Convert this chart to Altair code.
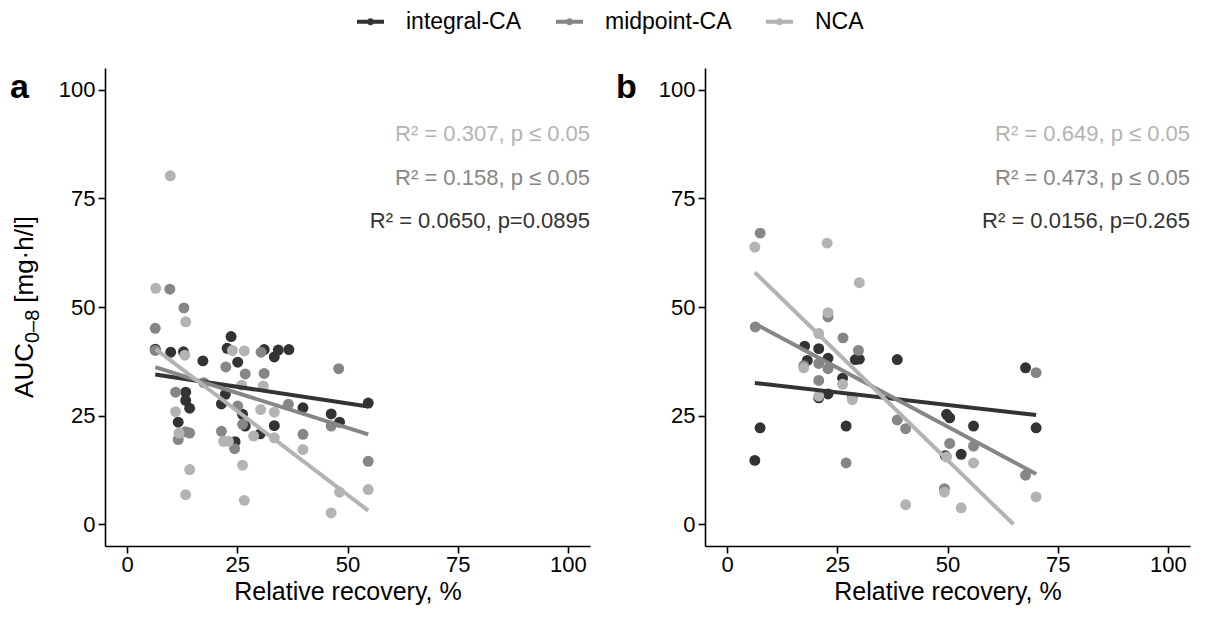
import altair as alt
import numpy as np
import pandas as pd

FONT = "Liberation Sans"

methods = ["integral-CA", "midpoint-CA", "NCA"]
greys = ["#333333", "#868686", "#b3b3b3"]

# ---- panel a: relative recovery (%) vs AUC0-8 (mg*h/l) ----
a_int_x = [6.4, 9.9, 12.8, 17.2, 23.6, 22.7, 25.1, 31.1, 33.4, 34.3, 36.7, 13.3, 13.3,
           14.2, 11.6, 21.4, 22.3, 26.2, 26.8, 30.2, 33.4, 24.5, 39.9, 46.3, 48.2, 54.7]
a_int_y = [40.3, 39.6, 39.7, 37.6, 43.2, 40.5, 37.3, 40.2, 38.5, 40.1, 40.2, 30.4, 28.5,
           26.7, 23.5, 27.7, 29.9, 25.3, 22.6, 20.8, 22.7, 19.0, 26.8, 25.4, 23.5, 27.9]

a_mid_x = [9.7, 12.9, 6.4, 22.4, 30.4, 26.8, 31.1, 48.0, 11.0, 13.3, 14.2, 11.6, 25.1,
           26.2, 21.4, 24.4, 39.9, 46.3, 54.7, 6.4, 17.4, 36.6]
a_mid_y = [54.1, 49.8, 45.1, 36.2, 39.6, 34.6, 34.7, 35.8, 30.4, 21.3, 21.0, 19.5, 27.2,
           23.0, 21.4, 17.4, 20.7, 22.6, 14.5, 40.0, 32.6, 27.6]

a_nca_x = [6.5, 13.3, 13.1, 23.9, 26.6, 26.0, 30.9, 11.0, 11.8, 28.7, 30.3, 33.4, 33.4,
           21.9, 23.0, 26.2, 14.2, 13.3, 26.6, 39.9, 54.7, 48.2, 46.3, 9.8]
a_nca_y = [54.3, 46.6, 38.9, 40.0, 39.9, 32.0, 31.8, 25.9, 21.0, 20.3, 26.4, 25.8, 19.9,
           19.1, 19.1, 13.6, 12.6, 6.8, 5.5, 17.2, 8.0, 7.4, 2.6, 80.2]

# ---- panel b ----
b_int_x = [17.6, 20.8, 22.9, 18.2, 29.1, 30.0, 38.6, 26.2, 22.9, 20.8, 49.8, 50.5, 55.9,
           7.5, 27.0, 6.3, 53.1, 49.5, 67.7, 70.1]
b_int_y = [41.0, 40.4, 38.2, 37.7, 37.9, 38.0, 37.9, 33.6, 30.0, 29.1, 25.3, 24.5, 22.6,
           22.2, 22.6, 14.7, 16.1, 15.8, 36.0, 22.2]

b_mid_x = [7.5, 6.4, 22.9, 26.3, 29.8, 20.8, 22.9, 20.8, 17.4, 38.6, 40.5, 27.0, 50.5,
           55.9, 70.1, 67.7, 49.3, 28.4]
b_mid_y = [67.0, 45.4, 47.7, 42.9, 40.0, 37.0, 35.8, 33.1, 36.5, 24.0, 22.0, 14.1, 18.6,
           18.0, 34.9, 11.3, 8.2, 29.2]

b_nca_x = [30.0, 22.9, 20.8, 17.4, 26.2, 20.8, 28.4, 55.9, 49.8, 49.3, 40.5, 53.1, 6.3,
           22.7, 70.1]
b_nca_y = [55.6, 48.7, 43.9, 36.0, 32.2, 29.5, 28.7, 14.1, 15.5, 7.4, 4.5, 3.8, 63.8,
           64.7, 6.3]

# fit statistics printed in each panel (NCA, midpoint-CA, integral-CA from top)
a_notes = ["R² = 0.307, p ≤ 0.05", "R² = 0.158, p ≤ 0.05", "R² = 0.0650, p=0.0895"]
b_notes = ["R² = 0.649, p ≤ 0.05", "R² = 0.473, p ≤ 0.05", "R² = 0.0156, p=0.265"]

# y-axis title pieces: (text, is_subscript)
y_title_parts = [("AUC", False), ("0–8", True), ("[mg·h/l]", False)]
X_TITLE = "Relative recovery, %"

# Arial / Liberation Sans advance widths (1/1000 em) used to lay out the title pieces
ADV = {"A": 667, "U": 722, "C": 722, "0": 556, "8": 556, "–": 556, " ": 278, "[": 278,
       "]": 278, "m": 833, "g": 556, "·": 333, "h": 556, "/": 278, "l": 222}


def text_width(s, size):
    return sum(ADV.get(ch, 556) for ch in s) * size / 1000.0


def points_frame(series):
    rows = []
    for m, (xs, ys) in zip(methods, series):
        rows += [{"method": m, "x": x, "y": y} for x, y in zip(xs, ys)]
    return pd.DataFrame(rows)


def fit_frame(series):
    """Least-squares line per method over the observed x range, kept inside y >= 0."""
    rows = []
    for m, (xs, ys) in zip(methods, series):
        slope, intercept = np.polyfit(xs, ys, 1)
        x0, x1 = min(xs), max(xs)
        if slope < 0 and intercept + slope * x1 < 0:
            x1 = -intercept / slope
        for x in (x0, x1):
            rows.append({"method": m, "x": x, "y": intercept + slope * x})
    return pd.DataFrame(rows)


PW, PH = 485, 478
TITLE_SIZE = 25
Y_TITLE_SIZE = 26
SUB_SIZE = 20
WORD_GAP = 7

legend = alt.Legend(
    title=None,
    orient="none",
    direction="horizontal",
    legendX=250,
    legendY=-62,
    labelFont=FONT,
    labelFontSize=23,
    labelColor="black",
    labelOffset=20,
    columnPadding=26,
    symbolType="M-1,0H1M-0.12,0A0.12,0.12,0,1,1,0.12,0A0.12,0.12,0,1,1,-0.12,0Z",
    symbolSize=729,
    symbolStrokeWidth=4,
    symbolOpacity=1,
)

color = alt.Color("method:N", scale=alt.Scale(domain=methods, range=greys), legend=legend)


def y_title_layers():
    """Rotated y title drawn piece by piece so the subscript can be smaller and lowered."""
    widths = [text_width(t, SUB_SIZE if sub else Y_TITLE_SIZE) for t, sub in y_title_parts]
    total = sum(widths) + WORD_GAP
    pos = PH / 2 + total / 2
    out = []
    for (t, sub), w in zip(y_title_parts, widths):
        size = SUB_SIZE if sub else Y_TITLE_SIZE
        out.append(
            alt.Chart(pd.DataFrame({"piece": [t]})).mark_text(
                angle=270, align="left", baseline="alphabetic", font=FONT,
                fontSize=size, color="black"
            ).encode(x=alt.value(-72 + (6 if sub else 0)), y=alt.value(pos), text="piece:N")
        )
        pos -= w + (WORD_GAP if sub else 0)
    return out


def panel(tag, series, notes, with_y_title, tag_dx):
    pts = points_frame(series)
    pts["rank"] = pts["method"].map({m: i for i, m in enumerate(methods)})
    fits = fit_frame(series)

    x_enc = alt.X("x:Q", scale=alt.Scale(domain=[-5, 105], nice=False, zero=False),
                  axis=alt.Axis(values=[0, 25, 50, 75, 100], title=X_TITLE,
                                titlePadding=4, titleFontSize=TITLE_SIZE, labelPadding=1))
    y_enc = alt.Y("y:Q", scale=alt.Scale(domain=[-5, 105], nice=False, zero=False),
                  axis=alt.Axis(values=[0, 25, 50, 75, 100], title=None))

    dots = alt.Chart(pts).mark_circle(size=120, opacity=1).encode(
        x=x_enc, y=y_enc, color=color, order=alt.Order("rank:Q"))
    lines = alt.Chart(fits).mark_line(strokeWidth=4, strokeCap="butt").encode(
        x="x:Q", y="y:Q", color=color)

    layers = [dots, lines]
    for i, (txt, col) in enumerate(zip(notes, greys[::-1])):
        layers.append(
            alt.Chart(pd.DataFrame({"note": [txt]})).mark_text(
                align="right", baseline="middle", font=FONT, fontSize=22, color=col
            ).encode(x=alt.value(PW), y=alt.value(66 + 43.5 * i), text="note:N")
        )
    layers.append(
        alt.Chart(pd.DataFrame({"panel": [tag]})).mark_text(
            align="left", baseline="alphabetic", font=FONT, fontSize=34,
            fontWeight="bold", color="black"
        ).encode(x=alt.value(tag_dx), y=alt.value(30), text="panel:N")
    )
    if with_y_title:
        layers += y_title_layers()
    return alt.layer(*layers).properties(width=PW, height=PH)


panel_a = panel("a", [(a_int_x, a_int_y), (a_mid_x, a_mid_y), (a_nca_x, a_nca_y)],
                a_notes, True, -95)
panel_b = panel("b", [(b_int_x, b_int_y), (b_mid_x, b_mid_y), (b_nca_x, b_nca_y)],
                b_notes, False, -89)

chart = alt.hconcat(panel_a, panel_b, spacing=115, bounds="flush").properties(
    padding={"left": 10, "top": 6, "right": 10, "bottom": 10}
).configure_view(stroke=None).configure_axis(
    grid=False,
    domainColor="black",
    domainWidth=1.6,
    tickColor="black",
    tickWidth=1.6,
    tickSize=7,
    labelFont=FONT,
    labelFontSize=22,
    labelColor="black",
    labelPadding=3,
    titleFont=FONT,
    titleFontWeight="normal",
    titleColor="black",
)

chart.save("out.html", embed_options={"renderer": "svg", "actions": False})
